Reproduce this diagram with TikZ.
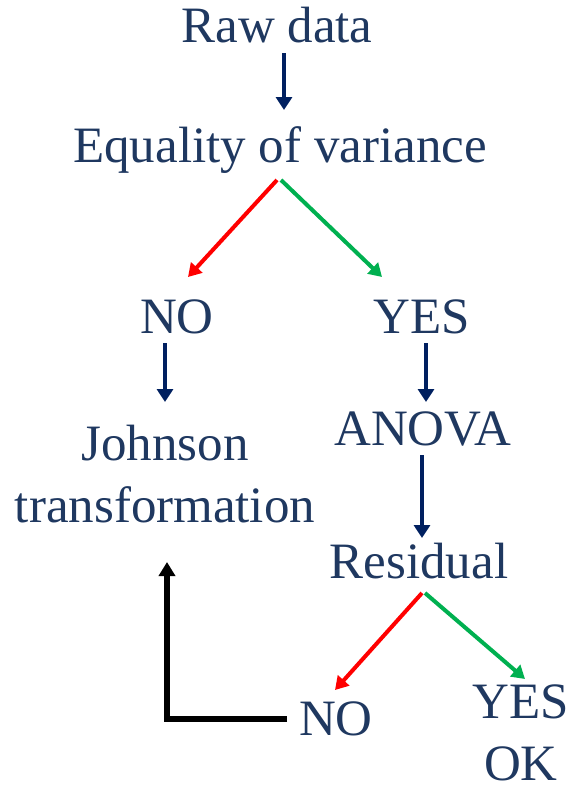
\documentclass[tikz,border=0pt]{standalone}
\usepackage{fontspec}
\setmainfont{Liberation Serif}
\usetikzlibrary{arrows.meta}
\definecolor{txt}{RGB}{31,56,96}
\definecolor{navyarr}{RGB}{0,32,96}
\definecolor{redarr}{RGB}{255,0,0}
\definecolor{greenarr}{RGB}{0,176,80}
\begin{document}
\begin{tikzpicture}[x=1pt,y=-1pt,
  lbl/.style={anchor=base,inner sep=0pt,text=txt,font=\fontsize{51}{62}\selectfont},
  navyarrow/.style={draw=navyarr,line width=4.5pt,-{Triangle[length=13pt,width=16pt]}},
  redarrow/.style={draw=redarr,line width=4pt,-{Triangle[length=13pt,width=15pt]}},
  greenarrow/.style={draw=greenarr,line width=4pt,-{Triangle[length=13pt,width=15pt]}},
  blackarrow/.style={draw=black,line width=5.5pt,-{Triangle[length=14pt,width=16pt]}}]
\useasboundingbox (0,0) rectangle (571,790);
\node[lbl] (raw) at (277,42) {Raw data};
\node[lbl] (eq) at (280,162) {Equality of variance};
\node[lbl] (no1) at (177,333) {NO};
\node[lbl] (yes1) at (422,333) {YES};
\node[lbl,align=center] (john) at (165,522) {Johnson\\transformation};
\node[lbl] (anova) at (423,445) {ANOVA};
\node[lbl] (res) at (419,578) {Residual};
\node[lbl] (no2) at (336,735) {NO};
\node[lbl,align=center] (yes2) at (521,780) {YES\\OK};
\draw[navyarrow] ([shift={(7,11)}]raw.base) -- ([shift={(4,-52)}]eq.base);
\draw[redarrow] ([shift={(-3,18)}]eq.base) -- ([shift={(11,-56)}]no1.base);
\draw[greenarrow] ([shift={(1,18)}]eq.base) -- ([shift={(-40,-56)}]yes1.base);
\draw[navyarrow] ([shift={(-12,10)}]no1.base) -- ([shift={(0,-120)}]john.base);
\draw[navyarrow] ([shift={(4,10)}]yes1.base) -- ([shift={(3,-43)}]anova.base);
\draw[navyarrow] ([shift={(-1,10)}]anova.base) -- ([shift={(3,-40)}]res.base);
\draw[redarrow] ([shift={(3,15)}]res.base) -- ([shift={(-1,-45)}]no2.base);
\draw[greenarrow] ([shift={(6,15)}]res.base) -- ([shift={(4,-101)}]yes2.base);
\draw[blackarrow] ([shift={(-49,-16)}]no2.base) -| ([shift={(2,40)}]john.base);
\end{tikzpicture}
\end{document}
